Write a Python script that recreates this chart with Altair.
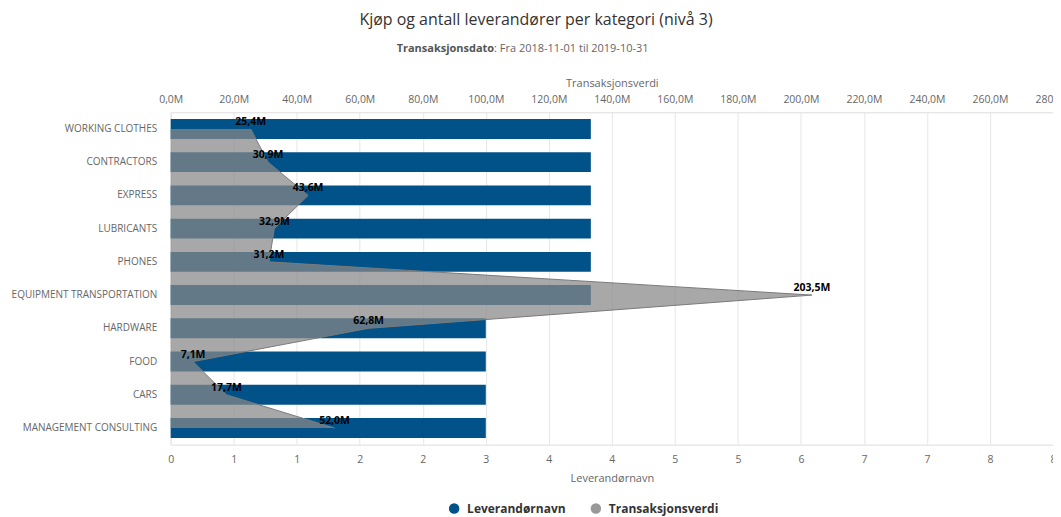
import altair as alt
import pandas as pd

# ---- data ----
categories = [
    "WORKING CLOTHES", "CONTRACTORS", "EXPRESS", "LUBRICANTS", "PHONES",
    "EQUIPMENT TRANSPORTATION", "HARDWARE", "FOOD", "CARS", "MANAGEMENT CONSULTING",
]
supplier_counts = [4, 4, 4, 4, 4, 4, 3, 3, 3, 3]
transaction_values_m = [25.4, 30.9, 43.6, 32.9, 31.2, 203.5, 62.8, 7.1, 17.7, 52.0]

count_ticks = [0, 0.6, 1.2, 1.8, 2.4, 3.0, 3.6, 4.2, 4.8, 5.4, 6.0, 6.6, 7.2, 7.8, 8.4]
value_ticks = [0, 20, 40, 60, 80, 100, 120, 140, 160, 180, 200, 220, 240, 260, 280]

series_names = ["Leverandørnavn", "Transaksjonsverdi"]
series_colors = ["#005288", "#999999"]

title_text = "Kjøp og antall leverandører per kategori (nivå 3)"
subtitle_bold = "Transaksjonsdato"
subtitle_rest = ": Fra 2018-11-01 til 2019-10-31"

FONT = "Open Sans"

df = pd.DataFrame({
    "kategori": categories,
    "antall": supplier_counts,
    "verdi": transaction_values_m,
})
df["serie"] = series_names[0]

base = alt.Chart(df)

y_enc = alt.Y(
    "kategori:N", sort=categories,
    scale=alt.Scale(paddingInner=0.4, paddingOuter=0.2),
    axis=alt.Axis(title=None, domain=False, ticks=False, grid=False,
                  labelPadding=14, labelColor="#666666", labelFontSize=10,
                  labelLimit=250, labelFont=FONT),
)

bars = base.mark_bar().encode(
    x=alt.X("antall:Q",
            scale=alt.Scale(domain=[0, 8.4], nice=False, zero=True),
            axis=alt.Axis(orient="bottom", values=count_ticks, format=".0f",
                          title="Leverandørnavn", grid=False, domain=False,
                          ticks=False, labelPadding=10, labelColor="#666666",
                          labelFontSize=10.5, titleFontSize=11,
                          titleColor="#666666", titleFontWeight="normal",
                          titlePadding=7, labelFont=FONT, titleFont=FONT,
                          labelFlush=False, labelOverlap=False)),
    y=y_enc,
    color=alt.Color("serie:N",
                    scale=alt.Scale(domain=series_names, range=series_colors),
                    legend=alt.Legend(title=None, orient="none", legendX=278,
                                      legendY=391, direction="horizontal",
                                      symbolType="circle", symbolSize=110,
                                      symbolStrokeWidth=0, labelFontSize=12,
                                      labelFontWeight="bold", labelColor="#333333",
                                      labelFont=FONT, columnPadding=24,
                                      labelOffset=7)),
)

x_top = alt.X(
    "verdi:Q",
    scale=alt.Scale(domain=[0, 280], nice=False, zero=True),
    axis=alt.Axis(orient="top", values=value_ticks,
                  labelExpr="replace(format(datum.value, '.1f'), '.', ',') + 'M'",
                  title="Transaksjonsverdi", grid=True, gridColor="#e6e6e6",
                  domain=False, ticks=False, labelPadding=8,
                  labelColor="#666666", labelFontSize=10.5, titleFontSize=11,
                  titleColor="#666666", titleFontWeight="normal",
                  titlePadding=6, labelFont=FONT, titleFont=FONT,
                  labelFlush=False, labelOverlap=False),
)

area = base.mark_area(
    orient="horizontal", color="#888888", opacity=0.73,
    line={"color": "#7a7a7a", "strokeWidth": 1, "opacity": 1},
).encode(
    x=x_top,
    y=alt.Y("kategori:N", sort=categories, bandPosition=0.5),
)

labels = base.transform_calculate(
    lbl="replace(format(datum.verdi, '.1f'), '.', ',') + 'M'"
).mark_text(
    fontWeight="bold", fontSize=10.5, baseline="bottom", dy=-2,
    color="#000000", font=FONT,
).encode(
    x=alt.X("verdi:Q", scale=alt.Scale(domain=[0, 280], nice=False, zero=True)),
    y=alt.Y("kategori:N", sort=categories, bandPosition=0.5),
    text="lbl:N",
)

title_mark = alt.Chart(pd.DataFrame({"t": [title_text]})).mark_text(
    align="center", baseline="middle", fontSize=16, color="#333333", font=FONT,
).encode(x=alt.value(366), y=alt.value(-92), text="t:N")

sub1 = alt.Chart(pd.DataFrame({"t": [subtitle_bold]})).mark_text(
    align="right", baseline="middle", fontWeight="bold", fontSize=11,
    color="#555555", font=FONT,
).encode(x=alt.value(324), y=alt.value(-63), text="t:N")

sub2 = alt.Chart(pd.DataFrame({"t": [subtitle_rest]})).mark_text(
    align="left", baseline="middle", fontSize=11, color="#666666", font=FONT,
).encode(x=alt.value(324), y=alt.value(-63), text="t:N")

chart = alt.layer(
    bars, alt.layer(area, labels), title_mark, sub1, sub2
).resolve_scale(
    x="independent"
).properties(
    width=884, height=333,
    padding={"left": 163, "top": 104, "right": 0, "bottom": 76},
    autosize=alt.AutoSizeParams(type="none"),
).configure_view(stroke=None).configure(font=FONT)

chart.save("out.html", embed_options={"renderer": "svg", "actions": False})
